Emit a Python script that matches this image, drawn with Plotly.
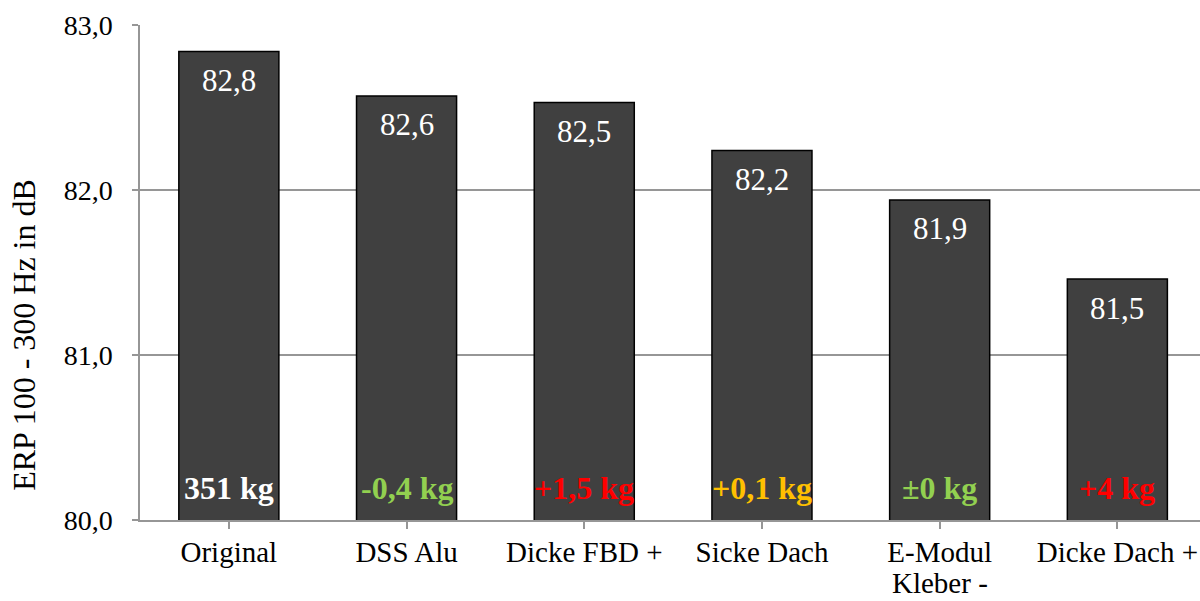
import plotly.graph_objects as go

# Variants and their ERP values (dB)
categories = ["Original", "DSS Alu", "Dicke FBD +", "Sicke Dach", "E-Modul", "Dicke Dach +"]
categories_line2 = ["", "", "", "", "Kleber -", ""]
erp_values = [82.84, 82.57, 82.53, 82.24, 81.94, 81.46]

# Mass change labels and their colours
mass_labels = ["351 kg", "-0,4 kg", "+1,5 kg", "+0,1 kg", "±0 kg", "+4 kg"]
mass_colors = ["#FFFFFF", "#92D050", "#FF0000", "#FFC000", "#92D050", "#FF0000"]

y_ticks = [80.0, 81.0, 82.0, 83.0]

FONT = "Liberation Serif, Times New Roman, serif"

fig = go.Figure()
fig.add_trace(go.Bar(
    x=list(range(len(categories))),
    y=erp_values,
    width=0.563,
    marker=dict(color="#404040", line=dict(color="#000000", width=1.5)),
    showlegend=False,
    hoverinfo="skip",
))

annotations = []
for i, (v, m, c) in enumerate(zip(erp_values, mass_labels, mass_colors)):
    # value label near the top of each bar
    annotations.append(dict(
        x=i, y=v, xref="x", yref="y", text=f"{v:.1f}".replace(".", ","),
        showarrow=False, yanchor="middle", yshift=-29,
        font=dict(family=FONT, size=31, color="#FFFFFF"),
    ))
    # mass change label near the bottom of each bar
    annotations.append(dict(
        x=i, y=y_ticks[0], xref="x", yref="y", text=f"<b>{m}</b>",
        showarrow=False, yanchor="middle", yshift=32,
        font=dict(family=FONT, size=32, color=c),
    ))

# second line of the wrapped category names
for i, t in enumerate(categories_line2):
    if t:
        annotations.append(dict(
            x=i, y=y_ticks[0], xref="x", yref="y", text=t,
            showarrow=False, yanchor="middle", yshift=-63,
            font=dict(family=FONT, size=29, color="#000000"),
        ))

annotations.append(dict(
    x=0, xref="paper", xanchor="center", xshift=-116,
    y=0.374, yref="paper", yanchor="middle",
    text="ERP 100 - 300 Hz in dB", textangle=-90, showarrow=False,
    font=dict(family=FONT, size=32, color="#000000"),
))

fig.update_layout(
    width=1200, height=601,
    margin=dict(l=140, r=0, t=25, b=81),
    plot_bgcolor="#FFFFFF", paper_bgcolor="#FFFFFF",
    separators=",.",
    annotations=annotations,
    font=dict(family=FONT, color="#000000"),
)

fig.update_xaxes(
    range=[-0.5, 5.465],
    tickmode="array",
    tickvals=list(range(len(categories))),
    ticktext=categories,
    tickson="boundaries",
    ticks="outside", ticklen=7, tickcolor="#969696", tickwidth=1.5,
    showline=True, linecolor="#969696", linewidth=1.5,
    showgrid=False, zeroline=False,
    tickfont=dict(family=FONT, size=29, color="#000000"),
    ticklabelstandoff=-2,
    automargin=False,
)

fig.update_yaxes(
    range=[y_ticks[0], y_ticks[-1]],
    tickmode="array", tickvals=y_ticks, tickformat=".1f",
    ticks="outside", ticklen=6, tickcolor="#969696", tickwidth=1.5,
    showline=True, linecolor="#969696", linewidth=1.5,
    showgrid=True, gridcolor="#969696", gridwidth=1.5,
    zeroline=False,
    tickfont=dict(family=FONT, size=28, color="#000000"),
    ticklabelstandoff=14,
    automargin=False,
)

fig.write_html("out.html")
